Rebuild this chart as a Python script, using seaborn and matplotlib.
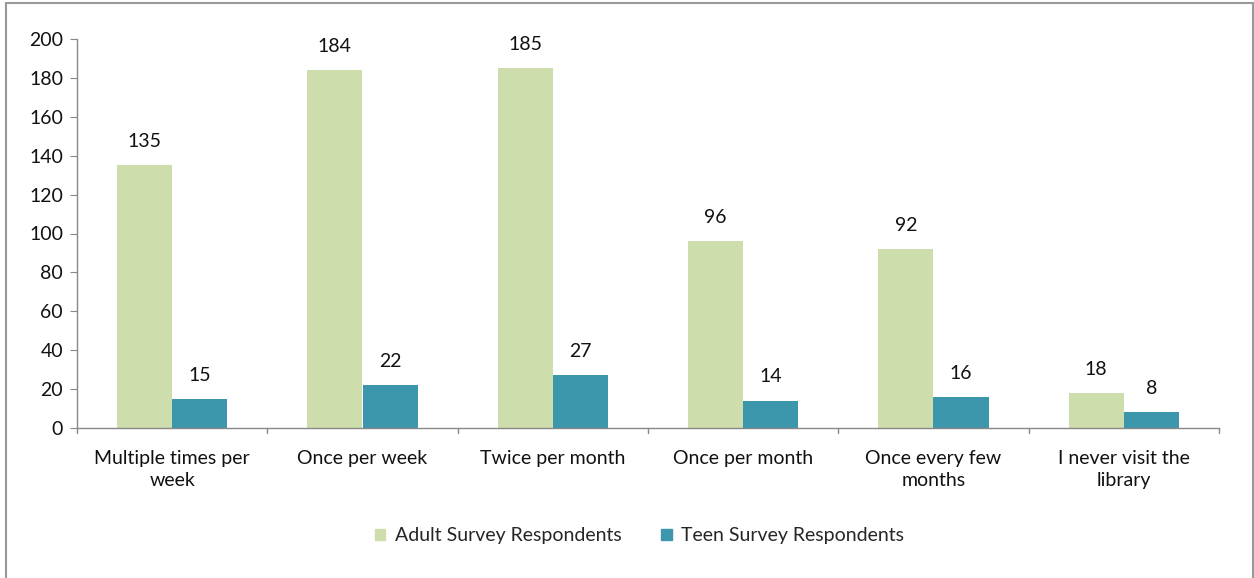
import matplotlib
matplotlib.use("Agg")
import matplotlib.pyplot as plt
import matplotlib.patches as mpatches
import seaborn as sns
import pandas as pd

categories = ["Multiple times per\nweek", "Once per week", "Twice per month",
              "Once per month", "Once every few\nmonths", "I never visit the\nlibrary"]
series_names = ["Adult Survey Respondents", "Teen Survey Respondents"]
adult_values = [135, 184, 185, 96, 92, 18]
teen_values = [15, 22, 27, 14, 16, 8]
y_ticks = [0, 20, 40, 60, 80, 100, 120, 140, 160, 180, 200]

sns.set_style("white")
plt.rcParams['font.family'] = ['Lato', 'DejaVu Sans']

FS = 14

df = pd.DataFrame({
    "category": categories * 2,
    "series": [series_names[0]] * len(categories) + [series_names[1]] * len(categories),
    "value": adult_values + teen_values,
})

fig = plt.figure(figsize=(12.54, 5.78), dpi=100)
ax = fig.add_axes([77 / 1254, 1 - 428 / 578, (1219 - 77) / 1254, (428 - 39) / 578])

palette = {series_names[0]: "#CDDDAB", series_names[1]: "#3C96AC"}
sns.barplot(data=df, x="category", y="value", hue="series", order=categories,
            hue_order=series_names, palette=palette, width=0.58, ax=ax,
            saturation=1, legend=False, linewidth=0)

for cont in ax.containers:
    ax.bar_label(cont, padding=11, fontsize=FS, color="#111111")

ax.set_ylim(0, 200)
ax.set_yticks(y_ticks)
ax.set_xlim(-0.5, len(categories) - 0.5)
ax.set_xlabel("")
ax.set_ylabel("")
ax.tick_params(axis="y", labelsize=FS, length=5, direction="out", color="#888888",
               left=True, pad=5, labelcolor="#111111")
ax.tick_params(axis="x", labelsize=FS, length=0, pad=16, labelcolor="#111111")
for lbl in ax.get_xticklabels():
    lbl.set_linespacing(1.35)
# boundary ticks on x axis
for i in range(len(categories) + 1):
    ax.plot([i - 0.5, i - 0.5], [0, -2.5], color="#888888", lw=1, clip_on=False)

for s in ["top", "right"]:
    ax.spines[s].set_visible(False)
for s in ["left", "bottom"]:
    ax.spines[s].set_color("#888888")
    ax.spines[s].set_linewidth(1)

handles = [mpatches.Patch(color=palette[n], label=n) for n in series_names]
fig.legend(handles=handles, loc="center", bbox_to_anchor=(0.51, 1 - 536 / 578), ncol=2,
           frameon=False, fontsize=FS, handlelength=0.55, handleheight=0.55,
           columnspacing=2.0, handletextpad=0.5)

border = mpatches.Rectangle((6 / 1254, -0.01), (1253 - 6) / 1254, 1 - 3 / 578 + 0.01,
                            transform=fig.transFigure, fill=False,
                            edgecolor="#9a9a9a", linewidth=1.5)
fig.patches.append(border)

fig.savefig("out.png", dpi=100)
